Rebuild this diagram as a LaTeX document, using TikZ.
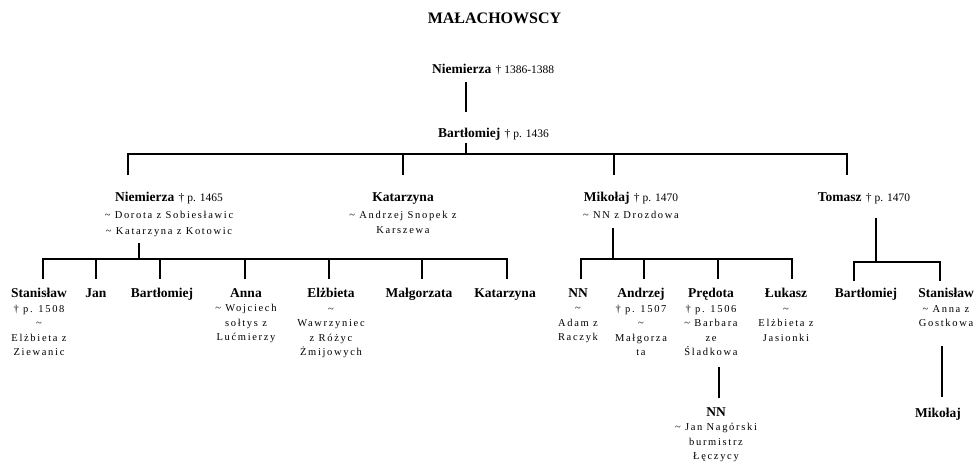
\documentclass[tikz,border=0pt]{standalone}
\usepackage{fontspec}
\setmainfont{Liberation Serif}
\newfontfamily\spacedfont[LetterSpace=16]{Liberation Serif}
\newcommand\nm[1]{{\normalfont\fontsize{13.5}{14}\selectfont\bfseries #1}}
\newcommand\dt[1]{{\normalfont\fontsize{11.5}{14}\selectfont #1}}
\newcommand\tl{\textasciitilde}
\begin{document}
\begin{tikzpicture}[x=1pt,y=-1pt,
  link/.style={line width=1.6pt},
  person/.style={anchor=north, align=center, inner sep=0pt,
    font=\fontsize{10.5}{14.5}\selectfont\spacedfont},
  parent/.style={person, font=\fontsize{10.5}{15.5}\selectfont\spacedfont},
  heading/.style={anchor=base, inner sep=0pt, font=\fontsize{16}{18}\selectfont\bfseries},
]
\useasboundingbox (0,0) rectangle (978,464);

% title
\node[heading] (title) at (494.5,23) {MAŁACHOWSCY};

% generations 0 and 1
\node[person, anchor=north west] (n0) at (432,64) {\nm{Niemierza} \dt{† 1386-1388}};
\node[person, anchor=north west] (b0) at (438,128) {\nm{Bartłomiej} \dt{† p. 1436}};

\node[parent] (n1) at (169,192) {\nm{Niemierza} \dt{† p. 1465}\\[1.5pt]\tl{} Dorota z Sobiesławic\\\tl{} Katarzyna z Kotowic};
\node[parent] (k1) at (403,192) {\nm{Katarzyna}\\[1.5pt]\tl{} Andrzej Snopek z\\Karszewa};
\node[parent] (m1) at (631,192) {\nm{Mikołaj} \dt{† p. 1470}\\[1.5pt]\tl{} NN z Drozdowa};
\node[parent] (t1) at (864,192) {\nm{Tomasz} \dt{† p. 1470}};

% children of Niemierza
\node[person] (c1) at (39,288) {\nm{Stanisław}\\† p. 1508\\\tl\\Elżbieta z\\Ziewanic};
\node[person] (c2) at (96,288) {\nm{Jan}};
\node[person] (c3) at (162,288) {\nm{Bartłomiej}};
\node[person] (c4) at (246,288) {\nm{Anna}\\\tl{} Wojciech\\sołtys z\\Lućmierzy};
\node[person] (c5) at (331,288) {\nm{Elżbieta}\\\tl\\Wawrzyniec\\z Różyc\\Żmijowych};
\node[person] (c6) at (419,288) {\nm{Małgorzata}};
\node[person] (c7) at (505,288) {\nm{Katarzyna}};

% children of Mikołaj
\node[person] (d1) at (578,288) {\nm{NN}\\\tl\\Adam z\\Raczyk};
\node[person] (d2) at (641,288) {\nm{Andrzej}\\† p. 1507\\\tl\\Małgorza\\ta};
\node[person] (d3) at (711,288) {\nm{Prędota}\\† p. 1506\\\tl{} Barbara\\ze\\Śladkowa};
\node[person] (d4) at (786,288) {\nm{Łukasz}\\\tl\\Elżbieta z\\Jasionki};
\node[person] (e1) at (716,407) {\nm{NN}\\\tl{} Jan Nagórski\\burmistrz\\Łęczycy};

% children of Tomasz
\node[person] (f1) at (866,288) {\nm{Bartłomiej}};
\node[person] (f2) at (946,288) {\nm{Stanisław}\\\tl{} Anna z\\Gostkowa};
\node[person] (g1) at (938,408) {\nm{Mikołaj}};

% junction points
\coordinate (n0s) at (466,82);   \coordinate (b0n) at (466,112);
\coordinate (b0s) at (466,143);  \coordinate (b0j) at (466,154);
\coordinate (g1L) at (128,154);  \coordinate (g1R) at (847,154);
\coordinate (n1j) at (128,175);  \coordinate (k1j) at (403,154);  \coordinate (k1n) at (403,175);
\coordinate (m1j) at (614,154);  \coordinate (m1n) at (614,175);  \coordinate (t1n) at (847,175);

\coordinate (n1s) at (139,243);  \coordinate (n1b) at (139,259);
\foreach \x/\n in {43/c1,96/c2,160/c3,245/c4,329/c5,422/c6,507/c7}{
  \coordinate (\n t) at (\x,259); \coordinate (\n n) at (\x,279);}

\coordinate (m1s) at (613,228);  \coordinate (m1b) at (613,259);
\foreach \x/\n in {581/d1,644/d2,718/d3,792/d4}{
  \coordinate (\n t) at (\x,259); \coordinate (\n n) at (\x,279);}
\coordinate (d3s) at (719,367);  \coordinate (e1n) at (719,398);

\coordinate (t1s) at (876,218);  \coordinate (t1b) at (876,262);
\foreach \x/\n in {854/f1,940/f2}{
  \coordinate (\n t) at (\x,262); \coordinate (\n n) at (\x,281);}
\coordinate (f2s) at (942,346);  \coordinate (g1n) at (942,397);

% connectors
\draw[link] (n0s) -- (b0n);
\draw[link] (b0s) -- (b0j);
\draw[link] (n1j) -- (g1L) -- (g1R) -- (t1n);
\draw[link] (k1j) -- (k1n);
\draw[link] (m1j) -- (m1n);

\draw[link] (n1s) -- (n1b);
\draw[link] (c1n) -- (c1t) -- (c7t) -- (c7n);
\foreach \n in {c2,c3,c4,c5,c6}{\draw[link] (\n t) -- (\n n);}

\draw[link] (m1s) -- (m1b);
\draw[link] (d1n) -- (d1t) -- (d4t) -- (d4n);
\foreach \n in {d2,d3}{\draw[link] (\n t) -- (\n n);}
\draw[link] (d3s) -- (e1n);

\draw[link] (t1s) -- (t1b);
\draw[link] (f1n) -- (f1t) -- (f2t) -- (f2n);
\draw[link] (f2s) -- (g1n);
\end{tikzpicture}
\end{document}
